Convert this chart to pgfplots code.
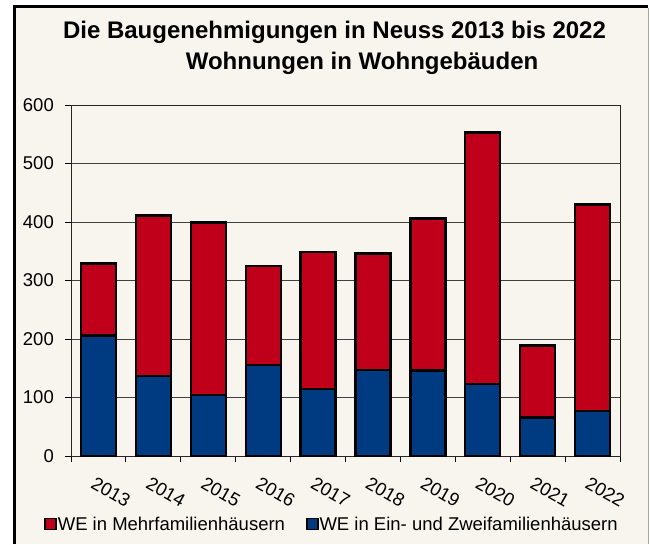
\documentclass[border=0pt]{standalone}
\usepackage{fontspec}
\setmainfont{Liberation Sans}
\usepackage{pgfplots}
\pgfplotsset{compat=1.18}
\definecolor{cream}{HTML}{F8F5EE}
\definecolor{barred}{HTML}{C0001A}
\definecolor{barblue}{HTML}{003A80}
\definecolor{gridgray}{HTML}{404040}
\begin{document}
\begin{tikzpicture}[x=1pt,y=1pt]
\path[use as bounding box, fill=white] (0,0) rectangle (650,544);
\fill[cream] (14,0) rectangle (648,536);
\draw[gray!70, line width=1pt] (648,536) -- (648,0);
\draw[black, line width=3pt] (14,0) -- (14,537.5) -- (648,537.5);
\begin{axis}[
  at={(71pt,88pt)}, anchor=south west,
  scale only axis, width=549pt, height=351pt,
  xmin=-0.5, xmax=9.5, ymin=0, ymax=600,
  ybar stacked, bar width=35pt,
  ytick={0,100,...,600},
  minor ytick={0,100,...,600},
  xtick={0,1,...,9},
  xticklabels={2013,2014,2015,2016,2017,2018,2019,2020,2021,2022},
  minor xtick={-0.5,0.5,...,9.5},
  xtick pos=bottom, ytick pos=left,
  tick align=outside, major tick length=0pt, minor tick length=6pt,
  tick style={black, line width=1pt},
  ymajorgrids, grid style={gridgray, line width=1pt},
  axis line style={black!85, line width=1pt},
  /pgf/number format/assume math mode=true,
  tick label style={font=\fontsize{18.5}{22}\selectfont},
  yticklabel style={anchor=east, inner sep=0pt, xshift=-17pt},
  xticklabel style={rotate=-30, anchor=north west, inner sep=0pt, xshift=8pt, yshift=-18pt},
  legend style={at={(-0.049,-0.194)}, anchor=west, draw=none, fill=none,
    font=\fontsize{18.5}{22}\selectfont, inner sep=0pt,
    nodes={inner sep=1pt}, cells={anchor=west},
    /tikz/every even column/.append style={column sep=20pt}},
  legend columns=2,
  reverse legend,
  legend image code/.code={\draw[#1, draw=black, line width=1.5pt] (0pt,-5.5pt) rectangle (11pt,5.5pt);},
]
\addplot[fill=barblue, draw=black, line width=2.3pt] coordinates {
(0,206) (1,137) (2,104) (3,156) (4,114) (5,147) (6,146) (7,123) (8,66) (9,77)};
\addlegendentry{WE in Ein- und Zweifamilienhäusern}
\addplot[fill=barred, draw=black, line width=2.3pt] coordinates {
(0,123) (1,274) (2,295) (3,169) (4,235) (5,199) (6,260) (7,430) (8,123) (9,353)};
\addlegendentry{WE in Mehrfamilienhäusern}
\end{axis}
\node[anchor=base, font=\bfseries\fontsize{24}{28}\selectfont] at (334.5,505) {Die Baugenehmigungen in Neuss 2013 bis 2022};
\node[anchor=base, font=\bfseries\fontsize{24}{28}\selectfont] at (362,474) {Wohnungen in Wohngebäuden};
\end{tikzpicture}
\end{document}
